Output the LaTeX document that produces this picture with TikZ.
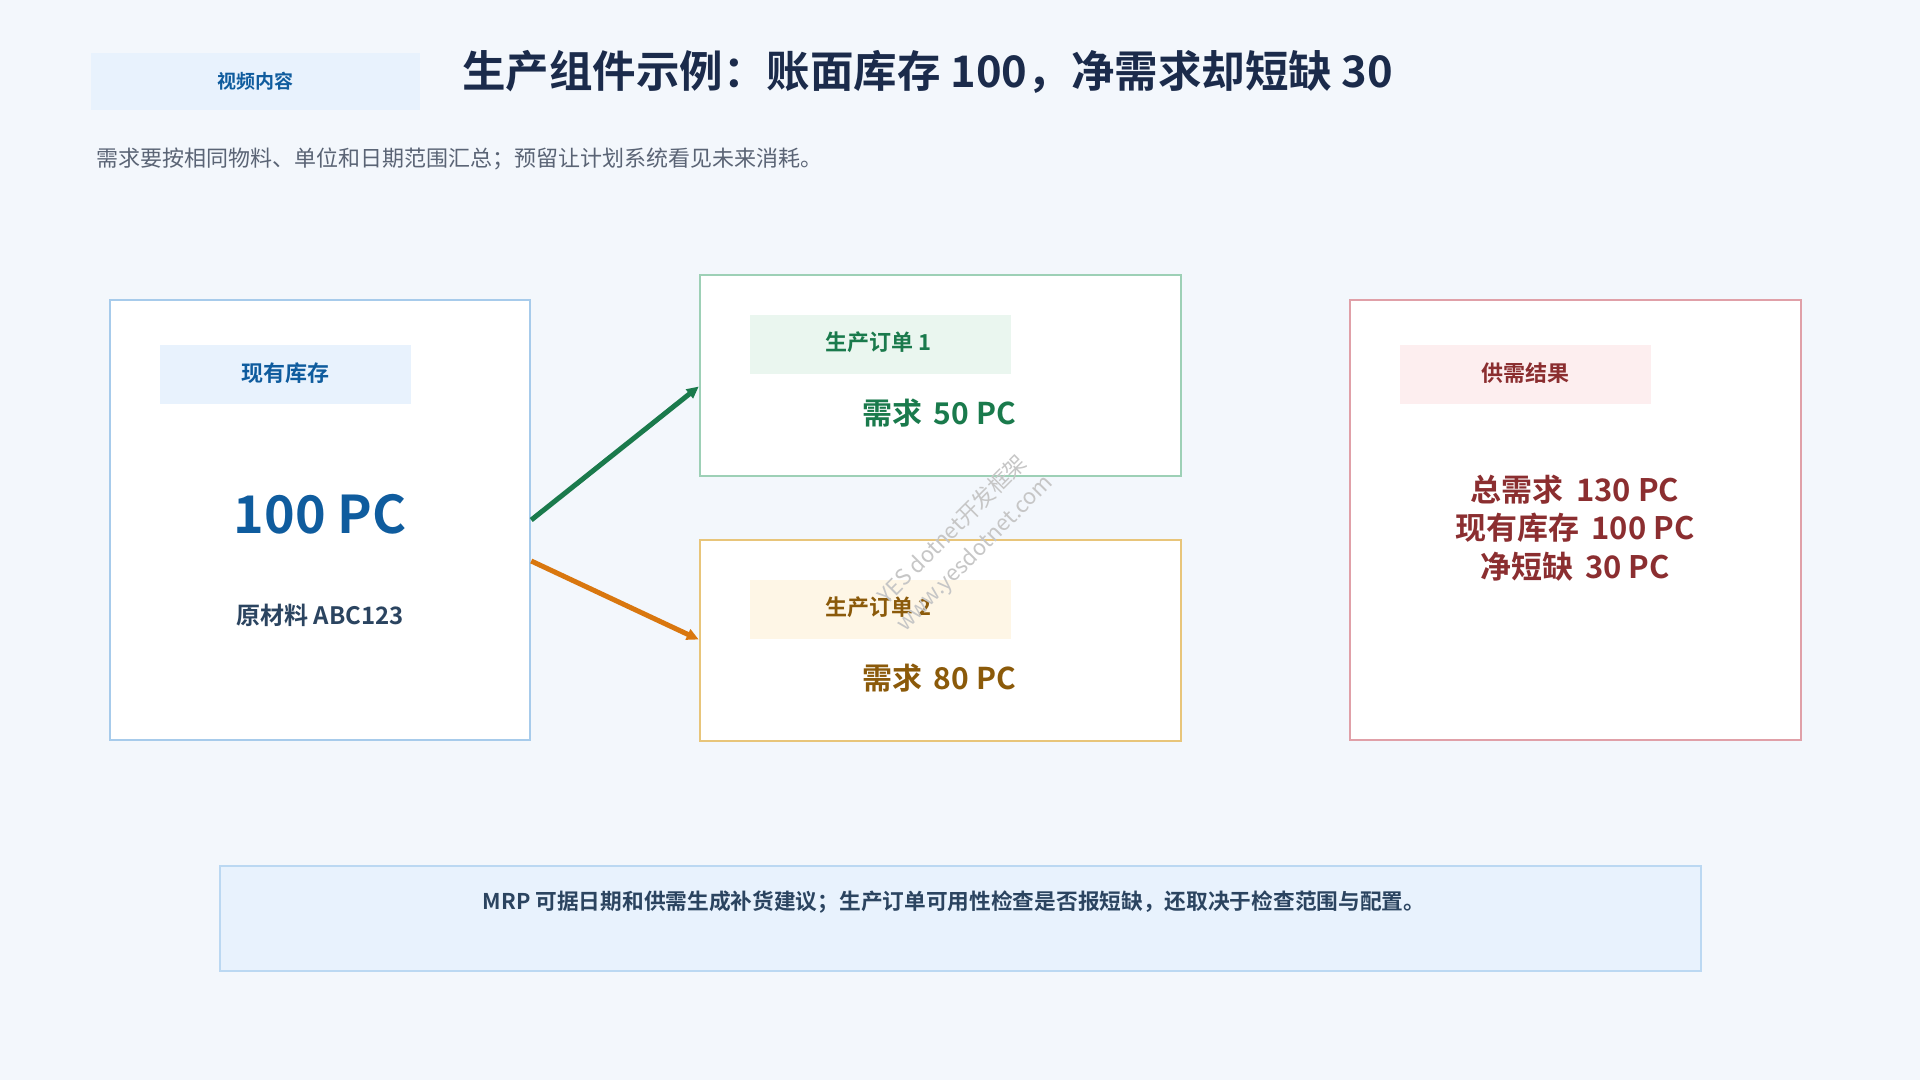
\documentclass[tikz,border=0pt]{standalone}
\usepackage{fontspec}
\setmainfont{Noto Sans CJK SC}[BoldFont={Noto Sans CJK SC Bold}]
\usetikzlibrary{arrows.meta}
\definecolor{bg}{HTML}{F3F7FC}
\definecolor{navy}{HTML}{1B2B4B}
\definecolor{subgray}{HTML}{5A6475}
\definecolor{slate}{HTML}{2B4460}
\definecolor{bluetx}{HTML}{0F5C9E}
\definecolor{bluebd}{HTML}{A7CBEB}
\definecolor{bluefl}{HTML}{E8F2FD}
\definecolor{greentx}{HTML}{1A7A4C}
\definecolor{greenbd}{HTML}{9DD0B6}
\definecolor{greenfl}{HTML}{EAF6EF}
\definecolor{orangetx}{HTML}{8B5A0A}
\definecolor{orangebd}{HTML}{E8C57A}
\definecolor{orangefl}{HTML}{FEF6E6}
\definecolor{orangear}{HTML}{D9770F}
\definecolor{redtx}{HTML}{8B2E30}
\definecolor{redbd}{HTML}{E0A0A8}
\definecolor{redfl}{HTML}{FDEEEF}
\definecolor{notebd}{HTML}{BBD8F2}
\newcommand{\fsz}[1]{\fontsize{#1}{#1}\selectfont}
\tikzset{
  card/.style={draw=#1, fill=white, line width=2.5pt, inner sep=0pt},
  tagbox/.style={fill=#1, draw=none, inner sep=0pt, minimum width=251pt, minimum height=59pt},
  txt/.style={inner sep=0pt, font=\bfseries\fsz{#1}},
  flow/.style={line width=5pt, -{Triangle[length=12pt,width=11pt]}},
  wmark/.style={inner sep=0pt, font=\fsz{22}, text=gray!45, rotate=45},
}
\begin{document}
\begin{tikzpicture}[x=1pt,y=-1pt]
\fill[bg] (0,0) rectangle (1920,1080);
\useasboundingbox (0,0) rectangle (1920,1080);

% header
\node[fill=bluefl, inner sep=0pt, minimum width=329pt, minimum height=57pt] (tag) at (255.5,81.5) {};
\node[txt=19, text=bluetx] (tagt) at (tag.center) {视频内容};
\node[txt=43.5, text=navy, anchor=west] (title) at (462,72) {生产组件示例：账面库存 100，净需求却短缺 30};
\node[inner sep=0pt, font=\fsz{22}, text=subgray, anchor=west] (sub) at (96,159) {需求要按相同物料、单位和日期范围汇总；预留让计划系统看见未来消耗。};

% inventory card
\node[card=bluebd, minimum width=420pt, minimum height=440pt] (inv) at (320,520) {};
\node[tagbox=bluefl] (invtag) at (285.5,374.5) {};
\node[txt=22, text=bluetx] (invtagt) at (285,373) {现有库存};
\node[txt=52, text=bluetx] (invqty) at (320,514) {100 PC};
\node[txt=24, text=slate] (invmat) at (320,615) {原材料 ABC123};

% production order 1
\node[card=greenbd, minimum width=481pt, minimum height=201pt] (po1) at (940.5,375.5) {};
\node[tagbox=greenfl, minimum width=261pt] (po1tag) at (880.5,344.5) {};
\node[txt=22, text=greentx] (po1tagt) at (878,342) {生产订单 1};
\node[txt=30, text=greentx] (po1dem) at (939,413) {需求\, 50 PC};

% production order 2
\node[card=orangebd, minimum width=481pt, minimum height=201pt] (po2) at (940.5,640.5) {};
\node[tagbox=orangefl, minimum width=261pt] (po2tag) at (880.5,609.5) {};
\node[txt=22, text=orangetx] (po2tagt) at (878,607) {生产订单 2};
\node[txt=30, text=orangetx] (po2dem) at (939,678) {需求\, 80 PC};

% result card
\node[card=redbd, minimum width=451pt, minimum height=440pt] (res) at (1575.5,520) {};
\node[tagbox=redfl] (restag) at (1525.5,374.5) {};
\node[txt=22, text=redtx] (restagt) at (1525,373) {供需结果};
\node[txt=31, text=redtx] (resl1) at (1575,490) {总需求\, 130 PC};
\node[txt=31, text=redtx] (resl2) at (1575,528) {现有库存\, 100 PC};
\node[txt=31, text=redtx] (resl3) at (1575,567) {净短缺\, 30 PC};

% arrows
\draw[flow, greentx] (inv.east) -- ([yshift=-11pt]po1.west);
\draw[flow, orangear] ([yshift=-41pt]inv.east) -- ([yshift=1pt]po2.west);

% watermark
\node[wmark] (wm1) at (952,529) {YES dotnet开发框架};
\node[wmark] (wm2) at (975,554) {www.yesdotnet.com};

% note
\node[fill=bluefl, draw=notebd, line width=2pt, inner sep=0pt, minimum width=1481pt, minimum height=105pt] (note) at (960.5,918.5) {};
\node[txt=21.7, text=slate] (notet) at (954,902) {MRP 可据日期和供需生成补货建议；生产订单可用性检查是否报短缺，还取决于检查范围与配置。};
\end{tikzpicture}
\end{document}
